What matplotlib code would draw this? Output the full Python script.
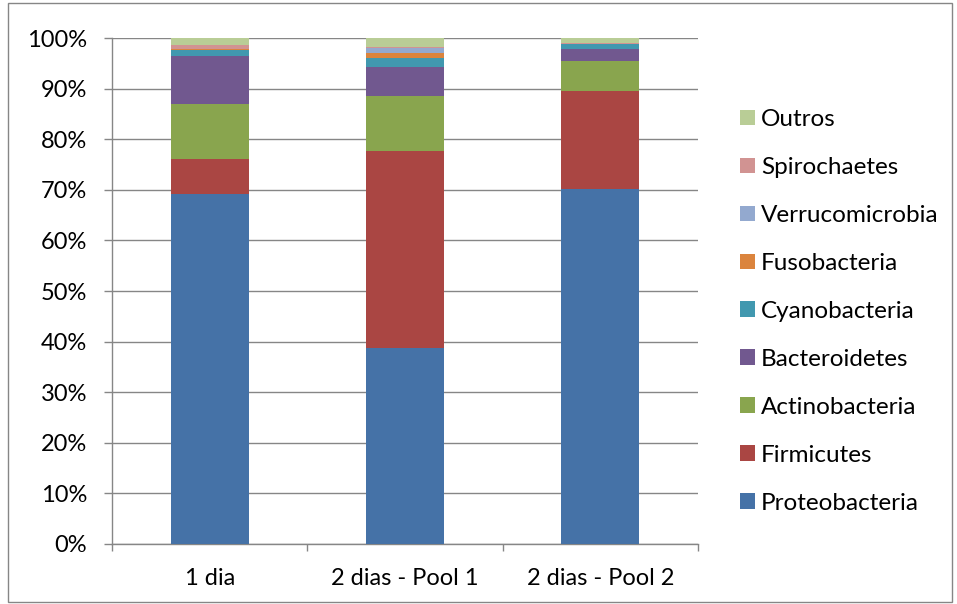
import matplotlib
matplotlib.use("Agg")
import matplotlib.pyplot as plt
from matplotlib.patches import Rectangle, Patch
import numpy as np

plt.rcParams['font.family'] = ['Lato', 'DejaVu Sans']

categories = ["1 dia", "2 dias - Pool 1", "2 dias - Pool 2"]
phyla = ["Proteobacteria", "Firmicutes", "Actinobacteria", "Bacteroidetes",
         "Cyanobacteria", "Fusobacteria", "Verrucomicrobia", "Spirochaetes", "Outros"]

proteobacteria = [69.2, 38.8, 70.2]
firmicutes = [6.9, 38.9, 19.3]
actinobacteria = [10.9, 10.9, 5.9]
bacteroidetes = [9.4, 5.7, 2.4]
cyanobacteria = [1.3, 1.8, 1.0]
fusobacteria = [0.1, 1.0, 0.05]
verrucomicrobia = [0.1, 0.9, 0.05]
spirochaetes = [0.8, 0.2, 0.05]
outros = [1.3, 1.8, 1.05]

series = [proteobacteria, firmicutes, actinobacteria, bacteroidetes, cyanobacteria,
          fusobacteria, verrucomicrobia, spirochaetes, outros]
colors = ["#4572A7", "#AA4643", "#89A54E", "#71588F", "#4198AF",
          "#DB843D", "#93A9CF", "#D19392", "#B9CD96"]

W, H = 957, 604
fig = plt.figure(figsize=(W / 100, H / 100), dpi=100)
ax = fig.add_axes([112/W, 60/H, 586/W, 506/H])

x = np.arange(len(categories))
bottom = np.zeros(len(categories))
for vals, col, name in zip(series, colors, phyla):
    ax.bar(x, vals, width=0.4, bottom=bottom, color=col, label=name, zorder=3)
    bottom += np.array(vals)

ax.set_xlim(-0.5, 2.5)
ax.set_ylim(0, 100)
ax.set_yticks(np.arange(0, 101, 10))
ax.set_yticklabels([f"{v}%" for v in range(0, 101, 10)], fontsize=17)
ax.yaxis.grid(True, color="#868686", linewidth=1.0, zorder=0)
ax.set_axisbelow(True)

ax.set_xticks(x)
ax.set_xticklabels(categories, fontsize=17)
ax.tick_params(axis='x', length=0, pad=17)
ax.set_xticks([-0.5, 0.5, 1.5, 2.5], minor=True)
ax.tick_params(axis='x', which='minor', length=5, color="#868686", width=1)
ax.tick_params(axis='y', length=6, color="#868686", width=1, pad=12)

for side in ["top", "right"]:
    ax.spines[side].set_visible(False)
for side in ["left", "bottom"]:
    ax.spines[side].set_color("#868686")
    ax.spines[side].set_linewidth(1)

handles = [Patch(facecolor=c, edgecolor='none') for c in colors][::-1]
labels = phyla[::-1]
fig.legend(handles, labels, loc="upper left", bbox_to_anchor=(740/W, 1 - 109/H),
           frameon=False, fontsize=17.5, handlelength=0.62, handleheight=0.62,
           handletextpad=0.25, labelspacing=1.11, borderaxespad=0, borderpad=0)

fig.add_artist(Rectangle((8/W, 2/H), 944/W, 599/H, transform=fig.transFigure,
                         fill=False, edgecolor="#868686", linewidth=1))

fig.savefig("out.png", dpi=100)
